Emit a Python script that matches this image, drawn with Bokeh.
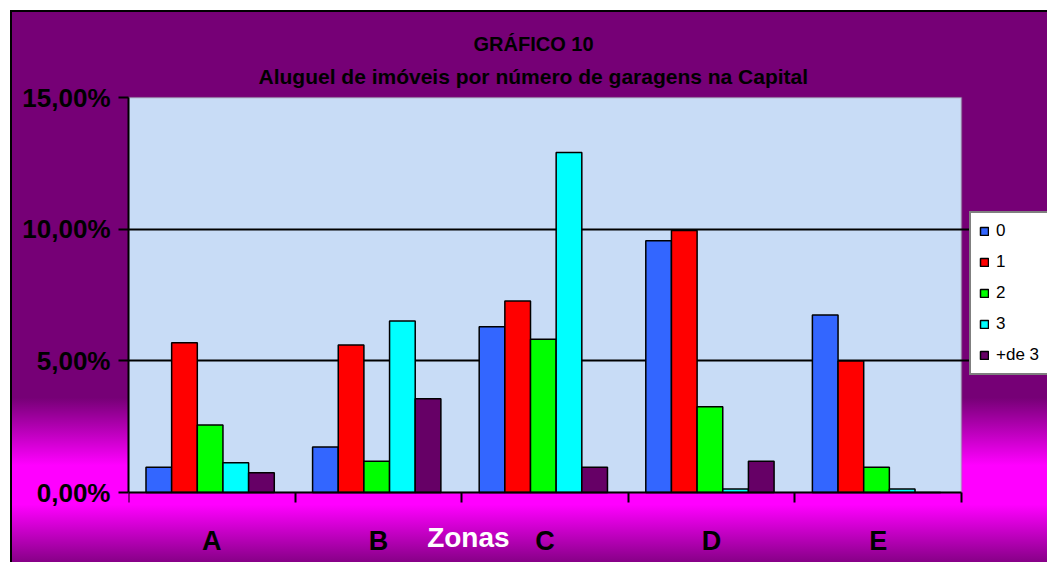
from bokeh.plotting import figure
from bokeh.models import (FixedTicker, CustomJSTickFormatter, Legend, LegendItem,
                          Label, Title, ColumnDataSource, BoxAnnotation, Range1d)
from bokeh.embed import file_html
from bokeh.resources import INLINE

# ---- data ----
zones = ["A", "B", "C", "D", "E"]
series = ["0", "1", "2", "3", "+de 3"]
s0 = [0.96, 1.73, 6.29, 9.56, 6.74]
s1 = [5.69, 5.60, 7.27, 9.95, 4.99]
s2 = [2.56, 1.19, 5.82, 3.26, 0.96]
s3 = [1.13, 6.51, 12.91, 0.13, 0.13]
s4 = [0.75, 3.56, 0.96, 1.19, 0.0]
values = [s0, s1, s2, s3, s4]
colors = ["#3366FF", "#FF0000", "#00FF00", "#00FFFF", "#660066"]
y_ticks = [0, 5, 10, 15]
y_max = 15
title1 = "GRÁFICO 10"
title2 = "Aluguel de imóveis por número de garagens na Capital"
x_title = "Zonas"

FONT = "Liberation Sans"
W, H = 1047, 562
LEFT, TOP = 128, 96
PX_Y = 395 / 15.0            # px per percentage point
PX_X = 833 / 5.0             # px per zone
n = len(zones)

frame_w = W - LEFT
frame_h = H - TOP
y_lo = y_max + 1 / PX_Y - frame_h / PX_Y

p = figure(width=W, height=H,
           x_range=Range1d(0, frame_w / PX_X),
           y_range=Range1d(y_lo, y_max + 1 / PX_Y),
           output_backend="svg", toolbar_location=None,
           min_border_left=LEFT, min_border_right=0,
           min_border_top=TOP, min_border_bottom=0,
           background_fill_color=None, border_fill_color=None,
           outline_line_color=None)
p.styles = {
    "background": ("linear-gradient(#000,#000) 10px 10px / 2px 100% no-repeat, "
                   "linear-gradient(#000,#000) 10px 10px / 100% 2px no-repeat, "
                   "linear-gradient(to bottom, #760076 0%, #760076 69%, #FF00FF 81%, "
                   "#FF00FF 88%, #7E007E 99%) 10px 10px / 100% 100% no-repeat, #ffffff"),
}

# plot area (light blue with gray border)
p.add_layout(BoxAnnotation(left=0, right=n, bottom=0, top=y_max,
                           fill_color="#C8DCF6", fill_alpha=1,
                           line_color="#808080", line_width=2, level="image"))

# titles (left aligned + offset so they sit over the chart centre like the reference)
p.title.text = title1
p.title.align = "left"
p.title.offset = 345
p.title.text_font = FONT
p.title.text_font_size = "20px"
p.title.text_font_style = "bold"
p.title.text_color = "black"
p.title.standoff = 0
p.add_layout(Title(text=title2, align="left", offset=130, text_font=FONT,
                   text_font_size="21px", text_font_style="bold", text_color="black",
                   standoff=17), "above")

# bars
bw = 0.154
renderers = []
for k, (vals, col) in enumerate(zip(values, colors)):
    src = ColumnDataSource(dict(x=[i + 0.49 + (k - 2) * bw for i in range(n)], top=vals))
    r = p.vbar(x="x", top="top", bottom=0, width=bw, source=src, fill_color=col,
               line_color="black", line_width=1.5)
    renderers.append(r)

# x axis, drawn on the zero line
p.xaxis.fixed_location = 0
p.xaxis.bounds = (0, n)
p.xaxis.ticker = FixedTicker(ticks=[i + 0.5 for i in range(n)],
                             minor_ticks=list(range(n + 1)))
p.xaxis.formatter = CustomJSTickFormatter(args=dict(cats=zones),
                                          code="return cats[Math.floor(tick)];")
p.xaxis.major_tick_out = 0
p.xaxis.major_tick_in = 0
p.xaxis.minor_tick_out = 10
p.xaxis.minor_tick_in = 0
p.xaxis.minor_tick_line_color = "black"
p.xaxis.minor_tick_line_width = 2
p.xaxis.axis_line_color = "black"
p.xaxis.axis_line_width = 2
p.xaxis.major_label_text_font = FONT
p.xaxis.major_label_text_font_size = "27px"
p.xaxis.major_label_text_font_style = "bold"
p.xaxis.major_label_text_color = "black"
p.xaxis.major_label_standoff = 23
p.xgrid.visible = False

# y axis
p.yaxis.bounds = (0, y_max)
p.yaxis.ticker = FixedTicker(ticks=y_ticks)
p.yaxis.formatter = CustomJSTickFormatter(code="return tick.toFixed(2).replace('.', ',') + '%';")
p.yaxis.major_tick_out = 10
p.yaxis.major_tick_in = 0
p.yaxis.major_tick_line_color = "black"
p.yaxis.major_tick_line_width = 2
p.yaxis.minor_tick_line_color = None
p.yaxis.axis_line_color = "black"
p.yaxis.axis_line_width = 2
p.yaxis.major_label_text_font = FONT
p.yaxis.major_label_text_font_size = "26px"
p.yaxis.major_label_text_font_style = "bold"
p.yaxis.major_label_text_color = "black"
p.yaxis.major_label_standoff = 8
p.ygrid.ticker = FixedTicker(ticks=[5, 10])
p.ygrid.grid_line_color = "black"
p.ygrid.grid_line_width = 2
p.ygrid.bounds = (0, n)

# "Zonas" axis title
p.add_layout(Label(x=2.04, y=-1.71, text=x_title, text_align="center", text_baseline="middle",
                   text_color="white", text_font=FONT, text_font_size="28px",
                   text_font_style="bold"))

# legend (inside the frame, to the right of the plot area)
legend = Legend(items=[LegendItem(label=s, renderers=[r]) for s, r in zip(series, renderers)],
                location=(841, 187))
legend.border_line_color = "black"
legend.border_line_width = 2
legend.background_fill_color = "white"
legend.background_fill_alpha = 1
legend.label_text_font = FONT
legend.label_text_font_size = "17px"
legend.label_text_color = "black"
legend.glyph_width = 10
legend.glyph_height = 10
legend.label_height = 18
legend.spacing = 11
legend.padding = 8
legend.margin = 0
legend.label_standoff = 7
p.add_layout(legend)

open("out.html", "w").write(file_html(p, INLINE))
